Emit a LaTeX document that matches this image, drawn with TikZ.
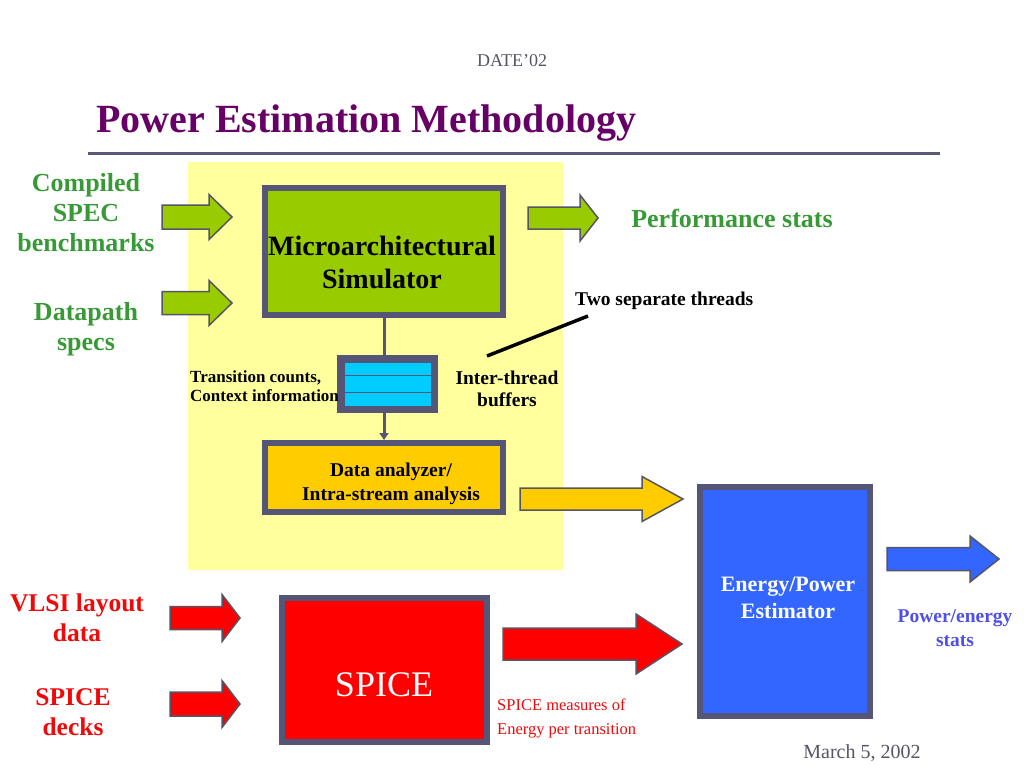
\documentclass[tikz,border=0pt]{standalone}
\usepackage{fontspec}
\setmainfont{Liberation Serif}
\usetikzlibrary{arrows.meta}
\definecolor{bordc}{HTML}{555578}
\definecolor{arrline}{HTML}{555566}
\definecolor{bgyellow}{HTML}{FFFF9E}
\definecolor{greenbox}{HTML}{99CC00}
\definecolor{greentxt}{HTML}{379A37}
\definecolor{cyanbox}{HTML}{00CCFF}
\definecolor{orangebox}{HTML}{FFCC00}
\definecolor{bluebox}{HTML}{3366FF}
\definecolor{redbox}{HTML}{FF0000}
\definecolor{redtxt}{HTML}{EE0A0A}
\definecolor{titlec}{HTML}{660066}
\definecolor{rulec}{HTML}{5A5A78}
\definecolor{graytxt}{HTML}{555566}
\definecolor{bluetxt}{HTML}{5050E6}
\newcommand{\myfs}[2]{\fontsize{#1}{#2}\selectfont}
\newcommand{\blkarrow}[7]{\draw[barrow,fill=#1] (#2,#5-#6) -- (#3,#5-#6) -- (#3,#5-#7) -- (#4,#5) -- (#3,#5+#7) -- (#3,#5+#6) -- (#2,#5+#6) -- cycle;}
\begin{document}
\begin{tikzpicture}[x=1pt,y=-1pt,
  box/.style={draw=bordc, line width=6pt, inner sep=0pt},
  barrow/.style={draw=arrline, line width=1.5pt, line join=miter},
  lbl/.style={inner sep=0pt, align=center},
  link/.style={draw=bordc, line width=3pt}]
\useasboundingbox (0,0) rectangle (1024,768);
\fill[white] (0,0) rectangle (1024,768);
% header
\node[lbl, font=\myfs{18}{20}, text=graytxt] (date) at (512,61) {DATE’02};
\node[inner sep=0pt, anchor=base west, font=\bfseries\myfs{40}{44}, text=titlec] (title) at (96,132) {Power Estimation Methodology};
\draw[rulec, line width=3pt] (88,153) -- (940,153);
% yellow background
\fill[bgyellow] (188,162) rectangle (563,570);
% boxes
\node[box, fill=greenbox, minimum width=238pt, minimum height=127pt] (sim) at (384,251.5) {};
\node[box, line width=7.5pt, fill=cyanbox, minimum width=93.5pt, minimum height=50.5pt] (buf) at (387.5,384) {};
\draw[bordc, line width=1pt] (345,375) -- (431,375) (345,392) -- (431,392);
\node[box, fill=orangebox, minimum width=238pt, minimum height=69pt] (ana) at (384,477.5) {};
\node[box, fill=bluebox, minimum width=170pt, minimum height=229pt] (est) at (785,601.5) {};
\node[box, fill=redbox, minimum width=205pt, minimum height=144pt] (spice) at (384.5,670) {};
% connectors
\draw[link] (sim.south) -- (sim.south |- buf.north);
\draw[link, -{Triangle[length=7pt,width=9pt]}] (sim.south |- buf.south) -- (sim.south |- ana.north);
\coordinate (ptA) at (487,356);
\coordinate (ptB) at (588,316);
\draw[line width=3.5pt] (ptA) -- (ptB);
% block arrows
\blkarrow{greenbox}{162}{209}{232}{217}{12}{22.5}
\blkarrow{greenbox}{162}{209}{232}{303}{11.5}{22.5}
\blkarrow{greenbox}{528}{580}{598}{218}{11}{23}
\blkarrow{orangebox}{520}{642}{683}{499}{11}{22.5}
\blkarrow{bluebox}{887}{970}{999}{559}{11.5}{23}
\blkarrow{redbox}{503}{636}{682}{644}{16}{30}
\blkarrow{redbox}{170}{222}{240}{618}{11.5}{23.5}
\blkarrow{redbox}{170}{222}{240}{704}{12}{23.5}
% texts
\node[lbl, font=\bfseries\myfs{26}{30}, text=greentxt] (in1) at (86,213) {Compiled\\SPEC\\benchmarks};
\node[lbl, font=\bfseries\myfs{26}{30}, text=greentxt] (in2) at (86,329) {Datapath\\specs};
\node[lbl, font=\bfseries\myfs{26}{30}, text=greentxt] (perf) at (732,218) {Performance stats};
\node[lbl, font=\bfseries\myfs{28}{33}] (simtxt) at (382,262) {Microarchitectural\\Simulator};
\node[inner sep=0pt, align=left, anchor=west, font=\bfseries\myfs{17}{19}] (trans) at (190,386) {Transition counts,\\Context information};
\node[lbl, font=\bfseries\myfs{19.5}{22}] (inter) at (507,389) {Inter-thread\\buffers};
\node[inner sep=0pt, anchor=base west, font=\bfseries\myfs{19.5}{22}] (threads) at (575,305) {Two separate threads};
\node[lbl, font=\bfseries\myfs{19.5}{24}] (anatxt) at (391,484) {Data analyzer/\\Intra-stream analysis};
\node[lbl, font=\bfseries\myfs{22}{27}, text=white] (esttxt) at (788,598) {Energy/Power\\Estimator};
\node[lbl, font=\bfseries\myfs{19.5}{24}, text=bluetxt] (pstats) at (955,628) {Power/energy\\stats};
\node[lbl, font=\bfseries\myfs{25.5}{30}, text=redtxt] (vlsi) at (77,618) {VLSI layout\\data};
\node[lbl, font=\bfseries\myfs{25.5}{30}, text=redtxt] (decks) at (73,712) {SPICE\\decks};
\node[lbl, font=\myfs{36}{40}, text=white] (spicetxt) at (384,685) {SPICE};
\node[inner sep=0pt, align=left, anchor=west, font=\myfs{16.5}{24}, text=redtxt] (spmeas) at (497,718) {SPICE measures of\\Energy per transition};
\node[inner sep=0pt, anchor=base, font=\myfs{20}{22}, text=graytxt] (march) at (862,758) {March 5, 2002};
\end{tikzpicture}
\end{document}
